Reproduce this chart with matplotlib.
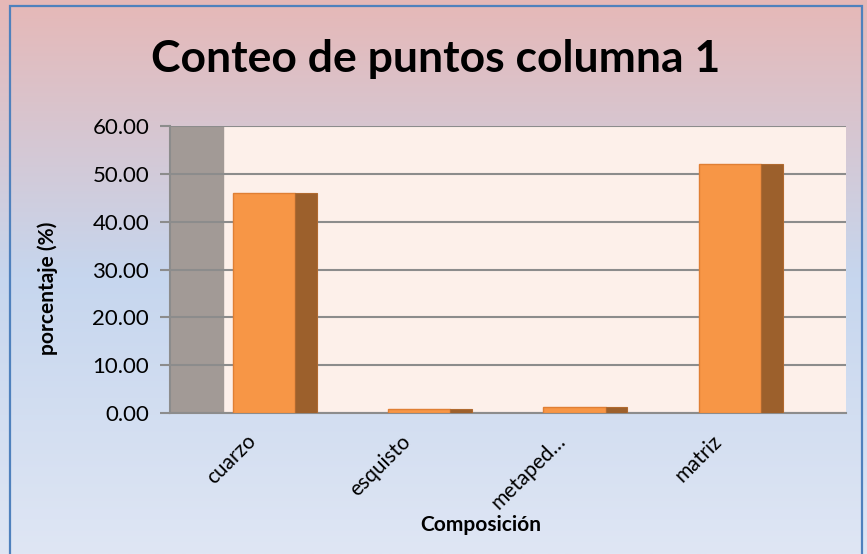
import matplotlib
matplotlib.use("Agg")
import matplotlib.pyplot as plt
import numpy as np
from matplotlib.colors import LinearSegmentedColormap
from matplotlib.patches import Rectangle

categories = ["cuarzo", "esquisto", "metaped…", "matriz"]
values = [46.0, 0.8, 1.2, 52.0]
yticks = [0, 10, 20, 30, 40, 50, 60]
title = "Conteo de puntos columna 1"
xlabel = "Composición"
ylabel = "porcentaje (%)"

W, H = 867, 554
fig = plt.figure(figsize=(W / 100, H / 100), dpi=100)
plt.rcParams['font.family'] = ['Lato', 'DejaVu Sans']

# background gradient
bg = fig.add_axes([0, 0, 1, 1], zorder=-10)
cmap = LinearSegmentedColormap.from_list(
    "bg", [(0, "#e6b8b7"), (0.5, "#c6d6ee"), (1.0, "#dfe6f4")])
grad = np.linspace(0, 1, 256).reshape(-1, 1)
bg.imshow(grad, aspect="auto", cmap=cmap, extent=[0, 1, 0, 1], origin="upper")
bg.set_xlim(0, 1); bg.set_ylim(0, 1)
bg.axis("off")
bg.add_patch(Rectangle((10 / W, -0.01), (862 - 10) / W, 1 - 6 / H + 0.01,
                       fill=False, edgecolor="#4f81bd", linewidth=1.6,
                       transform=bg.transAxes))

# plot area
left, right, top, bottom = 170, 846, 126, 413
ax = fig.add_axes([left / W, 1 - bottom / H, (right - left) / W, (bottom - top) / H])
ax.set_facecolor("#fdf0ea")

spacing = 155.2
c0 = 275
x_lo = (left - c0) / spacing
x_hi = (right - c0) / spacing
ax.set_xlim(x_lo, x_hi)
ax.set_ylim(0, 60)

wall_right = (223 - c0) / spacing
ax.axvspan(x_lo, wall_right, color="#a29a96", zorder=0.5)

for yv in yticks:
    ax.axhline(yv, color="#8c8c8c", linewidth=1.5, zorder=1)

x = np.arange(len(categories))
front_w = 0.40
side_w = 0.14
ax.bar(x - 0.27, values, width=front_w, align="edge", color="#f79646",
       edgecolor="#e07f34", linewidth=1.0, zorder=3)
ax.bar(x + 0.13, values, width=side_w, align="edge", color="#9c602c",
       edgecolor="#b06a30", linewidth=0.8, zorder=3)

for s in ["top", "right"]:
    ax.spines[s].set_visible(False)
ax.spines["left"].set_color("#8c8c8c")
ax.spines["left"].set_linewidth(1.5)
ax.spines["bottom"].set_color("#8c8c8c")
ax.spines["bottom"].set_linewidth(1.5)

ax.set_yticks(yticks)
ax.set_yticklabels([f"{v:.2f}" for v in yticks], fontsize=16, color="#000000")
ax.tick_params(axis="y", length=7, width=1.5, color="#8c8c8c", pad=8)

ax.set_xticks(x - 0.19)
ax.set_xticklabels(categories, rotation=45, ha="right", rotation_mode="anchor",
                   fontsize=15)
ax.tick_params(axis="x", length=0, pad=13)

fig.text(436 / W, 1 - 59 / H, title, fontsize=32, fontweight="bold",
         ha="center", va="center")
fig.text(481 / W, 1 - 525 / H, xlabel, fontsize=15, fontweight="bold",
         ha="center", va="center")
fig.text(48 / W, 1 - 288 / H, ylabel, fontsize=15, fontweight="bold",
         ha="center", va="center", rotation=90)

fig.savefig("out.png", dpi=100)
